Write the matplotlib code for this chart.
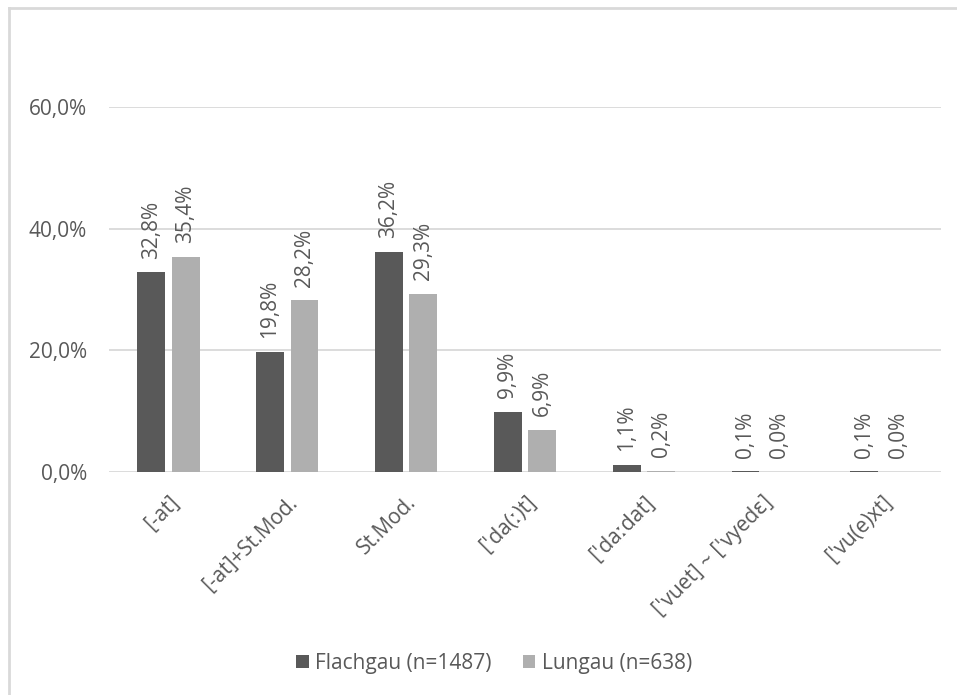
import matplotlib
matplotlib.use("Agg")
import matplotlib.pyplot as plt
import numpy as np
from matplotlib.lines import Line2D

plt.rcParams['font.family'] = ['Open Sans', 'DejaVu Sans']

categories = ["[-at]", "[-at]+St.Mod.", "St.Mod.", "[ˈda(ː)t]", "[ˈdaːdat]",
              "[ˈvuet] ~ [ˈvyedɛ]", "[ˈvu(e)xt]"]
flachgau = [32.8, 19.8, 36.2, 9.9, 1.1, 0.1, 0.1]
lungau = [35.4, 28.2, 29.3, 6.9, 0.2, 0.0, 0.0]
series_names = ["Flachgau (n=1487)", "Lungau (n=638)"]
yticks = [0, 20, 40, 60]

TEXT = "#595959"
DARK = "#595959"
LIGHT = "#afafaf"
GRID = "#d9d9d9"
FS = 15

fig = plt.figure(figsize=(9.57, 6.95), dpi=100)
ax = fig.add_axes([109 / 957, 1 - 472 / 695, (941 - 109) / 957, (472 - 107) / 695])

x = np.arange(len(categories))
w = 0.235
off = 0.145
b1 = ax.bar(x - off, [v / 100 for v in flachgau], w, color=DARK, label=series_names[0], zorder=3)
b2 = ax.bar(x + off, [v / 100 for v in lungau], w, color=LIGHT, label=series_names[1], zorder=3)

for bars, vals in ((b1, flachgau), (b2, lungau)):
    for r, v in zip(bars, vals):
        ax.annotate(f"{v:.1f}%".replace(".", ","),
                    (r.get_x() + r.get_width() / 2, r.get_height()),
                    xytext=(0, 10), textcoords="offset points",
                    rotation=90, ha="center", va="bottom",
                    fontsize=FS, color=TEXT)

ax.set_xlim(-0.5, len(categories) - 0.5)
ax.set_ylim(0, 0.6)
ax.set_yticks([t / 100 for t in yticks])
ax.set_yticklabels([f"{t:.1f}%".replace(".", ",") for t in yticks])
ax.set_xticks(x)
ax.set_xticklabels(categories, rotation=45, ha="right", rotation_mode="anchor")
ax.tick_params(axis="both", length=0, labelsize=FS, colors=TEXT)
ax.tick_params(axis="x", pad=14)
ax.tick_params(axis="y", pad=16)

ax.grid(axis="y", color=GRID, linewidth=1.3, zorder=0)
for s in ax.spines.values():
    s.set_visible(False)

fig.legend(handles=[b1, b2], loc="center", bbox_to_anchor=(494 / 957, 1 - 663 / 695),
           ncol=2, frameon=False, fontsize=FS, labelcolor=TEXT,
           handlelength=0.6, handleheight=0.6, handletextpad=0.3, columnspacing=1.5)

# outer chart frame (top and left edges)
fig.add_artist(Line2D([9 / 957, 9 / 957], [0, 1 - 8 / 695], transform=fig.transFigure,
                      color=GRID, linewidth=2))
fig.add_artist(Line2D([9 / 957, 1], [1 - 8 / 695, 1 - 8 / 695], transform=fig.transFigure,
                      color=GRID, linewidth=2))

fig.savefig("out.png", dpi=100)
